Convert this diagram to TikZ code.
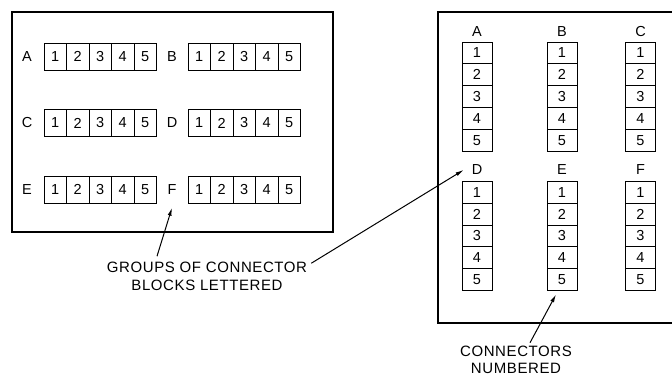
\documentclass[tikz,border=0pt]{standalone}
\usepackage{fontspec}
\setmainfont{Liberation Sans}
\newfontfamily\drafting[LetterSpace=4]{Liberation Sans}
\usetikzlibrary{arrows.meta,positioning}

\begin{document}
\begin{tikzpicture}[
  x=1pt, y=-1pt,
  font=\drafting\fontsize{14.5}{16}\selectfont,
  panel/.style={draw, line width=1.5pt},
  cell/.style={draw, line width=1pt, minimum width=22.5pt, minimum height=27pt,
    inner sep=0pt, outer sep=0pt},
  vcell/.style={draw, line width=1pt, minimum width=30pt, minimum height=21.8pt,
    inner sep=0pt, outer sep=0pt},
  tag/.style={inner sep=0pt},
  note/.style={align=center, inner sep=0pt, font=\drafting\fontsize{15}{17.5}\selectfont},
  arr/.style={-{Latex[length=8pt,width=4pt]}, line width=1pt}
]
\clip (0,0) rectangle (672,378);

% blocks in rows
\draw[panel] (12,12) rectangle (333,232);
\foreach \l/\r/\y in {A/B/56.5, C/D/123, E/F/189.5} {
  \node[tag] (l\l) at (27,\y) {\l};
  \node[tag] (l\r) at (172,\y) {\r};
  \foreach \i in {1,...,5} {
    \node[cell] (l\l\i) at (55.25+22.5*\i-22.5,\y) {\i};
    \node[cell] (l\r\i) at (199.25+22.5*\i-22.5,\y) {\i};
  }
}

% blocks in columns
\draw[panel] (438,12) rectangle (700,323);
\foreach \g/\x in {A/477, B/562, C/640.5} {
  \node[tag] (r\g) at (\x,32) {\g};
  \foreach \i in {1,...,5}
    \node[vcell] (r\g\i) at (\x,52.9+21.8*\i-21.8) {\i};
}
\foreach \g/\x in {D/477, E/562, F/640.5} {
  \node[tag] (r\g) at (\x,170) {\g};
  \foreach \i in {1,...,5}
    \node[vcell] (r\g\i) at (\x,192.4+21.8*\i-21.8) {\i};
}

\node[note] (grp) at (207,276.5) {GROUPS OF CONNECTOR\\BLOCKS LETTERED};
\node[note] (num) at (516,360) {CONNECTORS\\NUMBERED};

\draw[arr] ([xshift=-50pt,yshift=6pt]grp.north) -- ([yshift=-13pt]lF.south);
\draw[arr] ([xshift=4pt,yshift=-1pt]grp.north east) -- ([xshift=-8pt]rD.west);
\draw[arr] ([xshift=14pt,yshift=3pt]num.north) -- ([xshift=-6pt,yshift=-4pt]rE5.south);
\end{tikzpicture}
\end{document}
